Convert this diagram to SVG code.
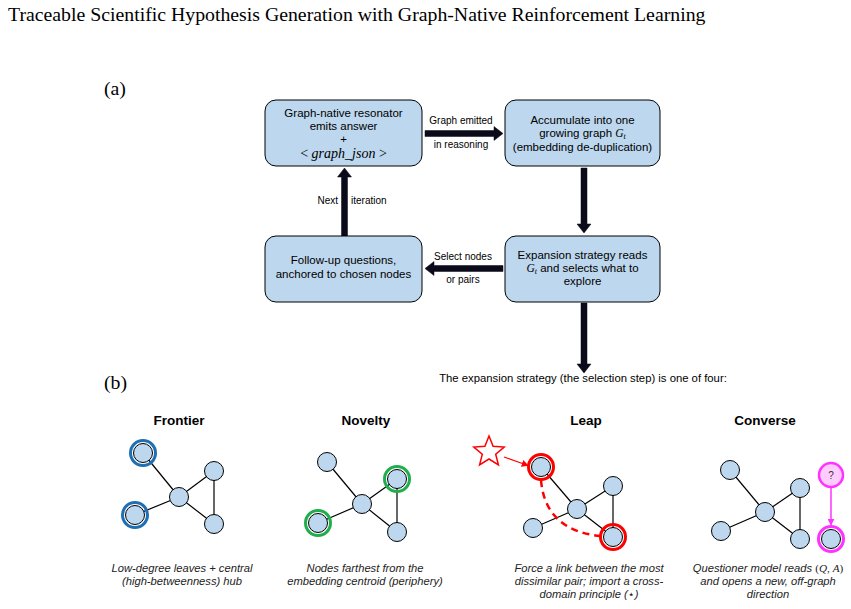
<svg xmlns="http://www.w3.org/2000/svg" width="851" height="609" viewBox="0 0 851 609">
<defs>
<style>
.bg{fill:#ffffff}
.title{font-family:"Liberation Serif","Times New Roman",serif;font-size:19.8px;fill:#000}
.box{fill:#bdd7ee;stroke:#000;stroke-width:1}
.bt{font-family:"Liberation Sans",Arial,sans-serif;font-size:11.5px;fill:#000;text-anchor:middle}
.math{font-family:"Liberation Serif","Times New Roman",serif;font-style:italic}
.lab{font-family:"Liberation Sans",Arial,sans-serif;font-size:10px;fill:#000}
.mid{text-anchor:middle}
.end{text-anchor:end}
.start{text-anchor:start}
.cap{font-family:"Liberation Sans",Arial,sans-serif;font-size:11.3px;fill:#000;text-anchor:middle}
.ptitle{font-family:"Liberation Sans",Arial,sans-serif;font-size:13.5px;font-weight:bold;fill:#000;text-anchor:middle}
.desc{font-family:"Liberation Sans",Arial,sans-serif;font-size:11.2px;font-style:italic;fill:#222;text-anchor:middle}
.blk{fill:#0a0a1a;stroke:#0a0a1a;stroke-width:0.5}
.edge{stroke:#000;stroke-width:1.2;fill:none}
.node{fill:#bdd7ee;stroke:#000;stroke-width:1}
.ringB{fill:none;stroke:#1f6fb5;stroke-width:3}
.ringG{fill:none;stroke:#1fae4b;stroke-width:3}
.ringR{fill:none;stroke:#ff0000;stroke-width:3}
.ringM{fill:none;stroke:#ff33ff;stroke-width:3}
</style>
<marker id="ahR" viewBox="0 0 10 10" refX="9" refY="5" markerWidth="7" markerHeight="7" markerUnits="userSpaceOnUse" orient="auto">
<path d="M0,0 L10,5 L0,10 z" fill="#ff0000"/>
</marker>
<marker id="ahM" viewBox="0 0 10 10" refX="9" refY="5" markerWidth="7" markerHeight="7" markerUnits="userSpaceOnUse" orient="auto">
<path d="M0,0 L10,5 L0,10 z" fill="#ff33ff"/>
</marker>
</defs>
<rect class="bg" x="0" y="0" width="851" height="609"/>
<text class="title" x="8" y="21">Traceable Scientific Hypothesis Generation with Graph-Native Reinforcement Learning</text>
<text class="title" x="104" y="95">(a)</text>
<text class="title" x="104" y="389">(b)</text>

<g id="connectors">
<polygon class="blk" points="425,130.5 494,130.5 494,126.5 503,133.5 494,140.5 494,136.5 425,136.5"/>
<polygon class="blk" points="581,168 581,224 577,224 584,233 591,224 587,224 587,168"/>
<polygon class="blk" points="503,265.5 434,265.5 434,261.5 425,268.5 434,275.5 434,271.5 503,271.5"/>
<polygon class="blk" points="341.5,236 341.5,177 337.5,177 344.5,168 351.5,177 347.5,177 347.5,236"/>
<polygon class="blk" points="581,303 581,364 577,364 584,373 591,364 587,364 587,303"/>
<text class="lab mid" x="461" y="124">Graph emitted</text>
<text class="lab mid" x="461" y="148">in reasoning</text>
<text class="lab end" x="338" y="203.5">Next</text>
<text class="lab start" x="351" y="203.5">iteration</text>
<text class="lab mid" x="463" y="259.5">Select nodes</text>
<text class="lab mid" x="463" y="282.5">or pairs</text>
</g>

<g id="node-resonator">
<rect class="box" x="265" y="100" width="157" height="66" rx="11"/>
<text class="bt" x="343.5" y="117">Graph-native resonator</text>
<text class="bt" x="343.5" y="130">emits answer</text>
<text class="bt" x="343.5" y="142.5">+</text>
<text class="bt" x="343.5" y="157.5" style="font-size:14px"><tspan font-family="Liberation Serif">&lt; </tspan><tspan class="math">graph_json</tspan><tspan font-family="Liberation Serif"> &gt;</tspan></text>
</g>

<g id="node-accumulate">
<rect class="box" x="505" y="100" width="155" height="66" rx="11"/>
<text class="bt" x="582.5" y="123.5">Accumulate into one</text>
<text class="bt" x="582.5" y="137">growing graph <tspan class="math">G</tspan><tspan class="math" font-size="8" dy="2">t</tspan></text>
<text class="bt" x="582.5" y="150.5">(embedding de-duplication)</text>
</g>

<g id="node-expansion">
<rect class="box" x="505" y="236" width="155" height="66" rx="11"/>
<text class="bt" x="582.5" y="259">Expansion strategy reads</text>
<text class="bt" x="582.5" y="272"><tspan class="math">G</tspan><tspan class="math" font-size="8" dy="2">t</tspan><tspan dy="-2"> and selects what to</tspan></text>
<text class="bt" x="582.5" y="285">explore</text>
</g>

<g id="node-followup">
<rect class="box" x="265" y="236" width="157" height="66" rx="11"/>
<text class="bt" x="343.5" y="264">Follow-up questions,</text>
<text class="bt" x="343.5" y="278">anchored to chosen nodes</text>
</g>

<text class="cap" x="583" y="381.5">The expansion strategy (the selection step) is one of four:</text>

<g id="panel-frontier">
<text class="ptitle" x="179" y="425">Frontier</text>
<line class="edge" x1="143" y1="453" x2="179" y2="497"/>
<line class="edge" x1="135" y1="515" x2="179" y2="497"/>
<line class="edge" x1="179" y1="497" x2="214" y2="471"/>
<line class="edge" x1="179" y1="497" x2="214" y2="524"/>
<line class="edge" x1="214" y1="471" x2="214" y2="524"/>
<circle class="node" cx="143" cy="453" r="9.5"/>
<circle class="ringB" cx="143" cy="453" r="12.5"/>
<circle class="node" cx="135" cy="515" r="9.5"/>
<circle class="ringB" cx="135" cy="515" r="12.5"/>
<circle class="node" cx="179" cy="497" r="9.5"/>
<circle class="node" cx="214" cy="471" r="9.5"/>
<circle class="node" cx="214" cy="524" r="9.5"/>
<text class="desc" x="182" y="572">Low-degree leaves + central</text>
<text class="desc" x="182" y="585">(high-betweenness) hub</text>
</g>

<g id="panel-novelty">
<text class="ptitle" x="366" y="425">Novelty</text>
<line class="edge" x1="327" y1="462" x2="362" y2="504"/>
<line class="edge" x1="318" y1="523" x2="362" y2="504"/>
<line class="edge" x1="362" y1="504" x2="397" y2="479"/>
<line class="edge" x1="362" y1="504" x2="397" y2="532"/>
<line class="edge" x1="397" y1="479" x2="397" y2="532"/>
<circle class="node" cx="327" cy="462" r="9.5"/>
<circle class="node" cx="397" cy="479" r="9.5"/>
<circle class="ringG" cx="397" cy="479" r="12.5"/>
<circle class="node" cx="362" cy="504" r="9.5"/>
<circle class="node" cx="318" cy="523" r="9.5"/>
<circle class="ringG" cx="318" cy="523" r="12.5"/>
<circle class="node" cx="397" cy="532" r="9.5"/>
<text class="desc" x="365" y="572">Nodes farthest from the</text>
<text class="desc" x="365" y="585">embedding centroid (periphery)</text>
</g>

<g id="panel-leap">
<text class="ptitle" x="586" y="425">Leap</text>
<line class="edge" x1="541" y1="467" x2="577" y2="509"/>
<line class="edge" x1="533" y1="528" x2="577" y2="509"/>
<line class="edge" x1="577" y1="509" x2="613" y2="486"/>
<line class="edge" x1="577" y1="509" x2="613" y2="537"/>
<line class="edge" x1="613" y1="486" x2="613" y2="537"/>
<path d="M541,480 Q545,530 600,536" fill="none" stroke="#ff0000" stroke-width="2.5" stroke-dasharray="7,5"/>
<polygon points="489,436 493.1,446.3 504.2,447.1 495.7,454.2 498.4,464.9 489,459 479.6,464.9 482.3,454.2 473.8,447.1 484.9,446.3" fill="#ffffff" stroke="#ff0000" stroke-width="1.5" stroke-linejoin="miter"/>
<line x1="504" y1="457" x2="528" y2="465.5" stroke="#ff0000" stroke-width="1.3" marker-end="url(#ahR)"/>
<circle class="node" cx="541" cy="467" r="9.5"/>
<circle class="ringR" cx="541" cy="467" r="12.5"/>
<circle class="node" cx="577" cy="509" r="9.5"/>
<circle class="node" cx="613" cy="486" r="9.5"/>
<circle class="node" cx="533" cy="528" r="9.5"/>
<circle class="node" cx="613" cy="537" r="9.5"/>
<circle class="ringR" cx="613" cy="537" r="12.5"/>
<text class="desc" x="589" y="572">Force a link between the most</text>
<text class="desc" x="589" y="585">dissimilar pair; import a cross-</text>
<text class="desc" x="589" y="598">domain principle (<tspan font-family="DejaVu Sans" font-style="normal" font-size="11">⋆</tspan>)</text>
</g>

<g id="panel-converse">
<text class="ptitle" x="765" y="425">Converse</text>
<line class="edge" x1="730" y1="470" x2="765" y2="512"/>
<line class="edge" x1="721" y1="531" x2="765" y2="512"/>
<line class="edge" x1="765" y1="512" x2="800" y2="488"/>
<line class="edge" x1="765" y1="512" x2="800" y2="539"/>
<line class="edge" x1="800" y1="488" x2="800" y2="539"/>
<line x1="831" y1="488" x2="831" y2="525" stroke="#ff33ff" stroke-width="1.5" marker-end="url(#ahM)"/>
<circle class="node" cx="730" cy="470" r="9.5"/>
<circle class="node" cx="765" cy="512" r="9.5"/>
<circle class="node" cx="800" cy="488" r="9.5"/>
<circle class="node" cx="721" cy="531" r="9.5"/>
<circle class="node" cx="800" cy="539" r="9.5"/>
<circle cx="831" cy="475" r="12" fill="#ffccff" stroke="#ff33ff" stroke-width="2.5"/>
<text x="831" y="479" font-family="Liberation Sans,Arial,sans-serif" font-size="10" text-anchor="middle" fill="#333">?</text>
<circle class="node" cx="831" cy="539" r="9.5" fill="#a9c3dd"/>
<circle class="ringM" cx="831" cy="539" r="12.5"/>
<text class="desc" x="768" y="572">Questioner model reads <tspan font-family="Liberation Serif" font-style="normal">(</tspan><tspan class="math">Q</tspan><tspan font-family="Liberation Serif" font-style="normal">, </tspan><tspan class="math">A</tspan><tspan font-family="Liberation Serif" font-style="normal">)</tspan></text>
<text class="desc" x="768" y="585">and opens a new, off-graph</text>
<text class="desc" x="768" y="598">direction</text>
</g>
</svg>
